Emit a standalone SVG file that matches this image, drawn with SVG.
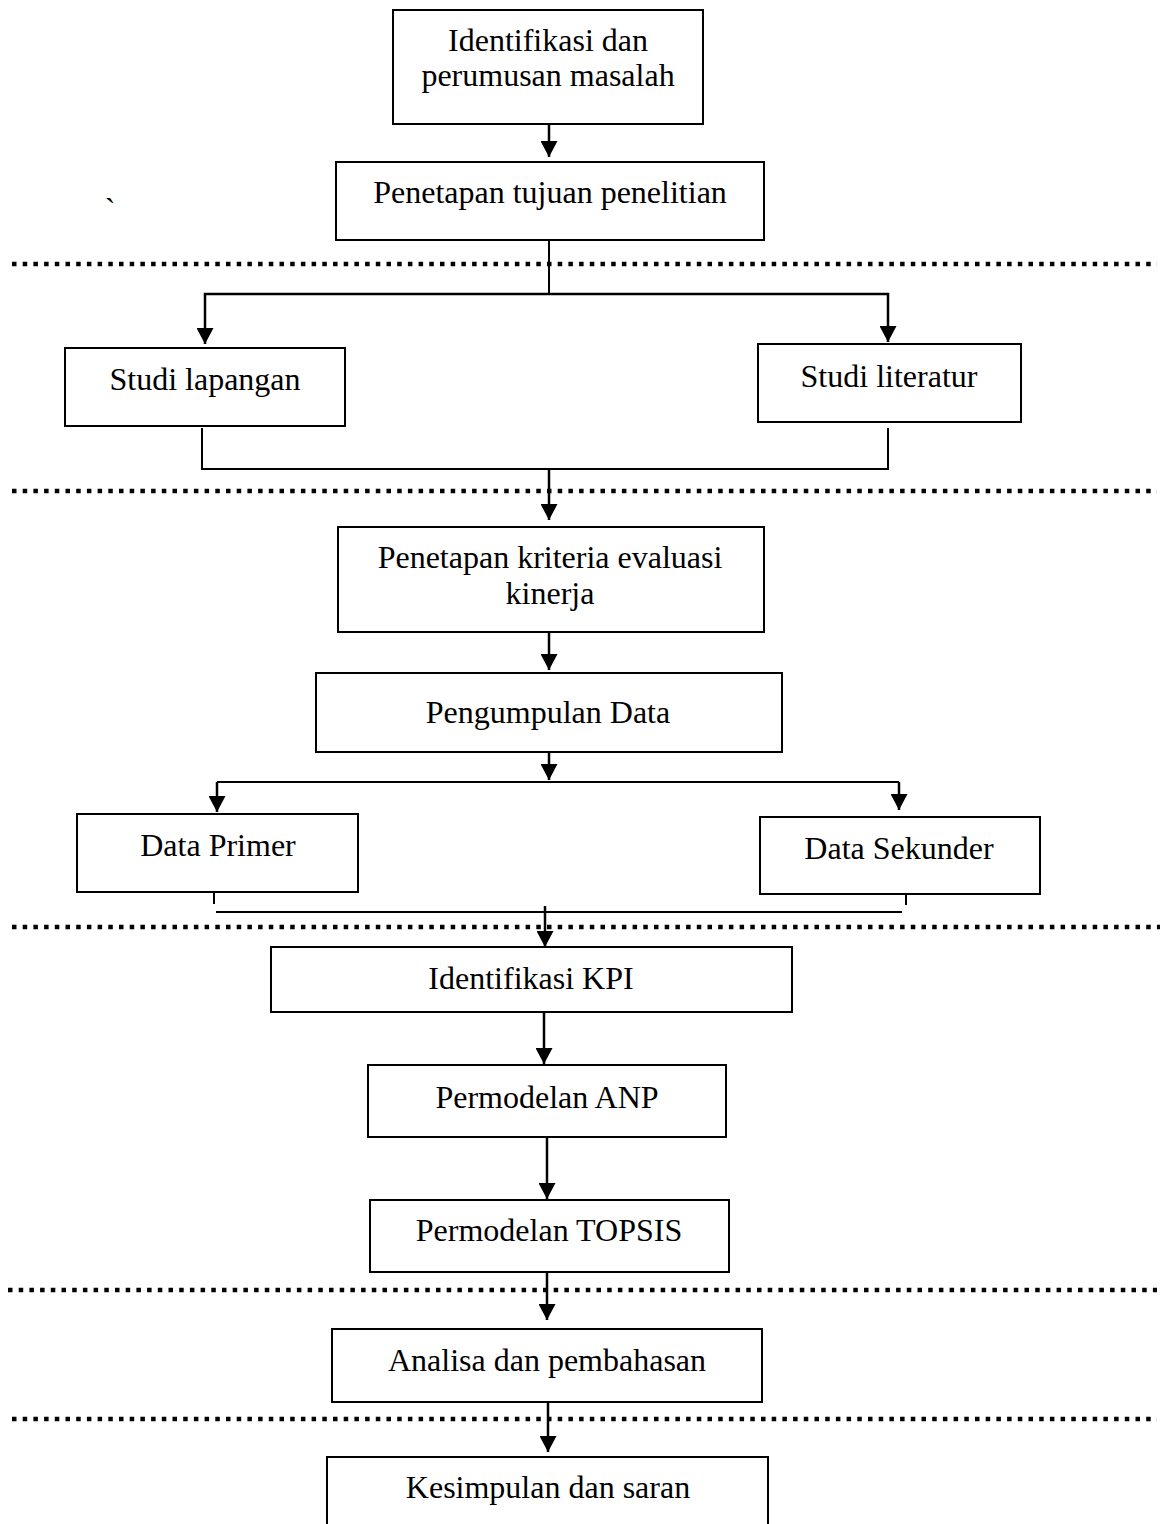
<svg xmlns="http://www.w3.org/2000/svg" width="1167" height="1524" viewBox="0 0 1167 1524">
<style>
.box{fill:#fff;stroke:#000;stroke-width:2}
.t{font-family:"Liberation Serif","Times New Roman",serif;font-size:32px;fill:#000;text-anchor:middle}
.c{fill:none;stroke:#000;stroke-width:2}
.a{fill:none;stroke:#000;stroke-width:2.5}
.dot{fill:none;stroke:#000;stroke-width:4.5;stroke-dasharray:4.5 6.2}
</style>
<defs>
<marker id="ah" markerUnits="userSpaceOnUse" markerWidth="16" markerHeight="17" refX="16" refY="8.5" orient="auto">
<path d="M0,0 L16,8.5 L0,17 z" fill="#000"/>
</marker>
</defs>
<rect width="1167" height="1524" fill="#fff"/>
<g id="separators">
<line class="dot" x1="12" y1="264" x2="1157" y2="264"/>
<line class="dot" x1="12" y1="491" x2="1157" y2="491"/>
<line class="dot" x1="12" y1="927" x2="1160" y2="927"/>
<line class="dot" x1="8" y1="1290" x2="1157" y2="1290"/>
<line class="dot" x1="12" y1="1419" x2="1157" y2="1419"/>
</g>
<g id="connectors">
<line class="a" x1="549" y1="124" x2="549" y2="157" marker-end="url(#ah)"/>
<polyline class="c" points="549,240 549,294"/>
<polyline class="a" points="549,294 205,294 205,344" marker-end="url(#ah)"/>
<polyline class="a" points="549,294 888,294 888,342" marker-end="url(#ah)"/>
<polyline class="c" points="202,428 202,469 888,469 888,428"/>
<line class="a" x1="549" y1="469" x2="549" y2="520" marker-end="url(#ah)"/>
<line class="a" x1="549" y1="632" x2="549" y2="670" marker-end="url(#ah)"/>
<line class="a" x1="549" y1="752" x2="549" y2="780" marker-end="url(#ah)"/>
<polyline class="c" points="217,782 899,782"/>
<line class="a" x1="217" y1="782" x2="217" y2="812" marker-end="url(#ah)"/>
<line class="a" x1="899" y1="782" x2="899" y2="810" marker-end="url(#ah)"/>
<line class="c" x1="214" y1="893" x2="214" y2="904"/>
<line class="c" x1="906" y1="894" x2="906" y2="905"/>
<line class="c" x1="216" y1="912" x2="902" y2="912"/>
<line class="a" x1="545" y1="906" x2="545" y2="947" marker-end="url(#ah)"/>
<line class="a" x1="544" y1="1012" x2="544" y2="1064" marker-end="url(#ah)"/>
<line class="a" x1="547" y1="1137" x2="547" y2="1199" marker-end="url(#ah)"/>
<line class="a" x1="547" y1="1272" x2="547" y2="1320" marker-end="url(#ah)"/>
<line class="a" x1="548" y1="1402" x2="548" y2="1452" marker-end="url(#ah)"/>
</g>
<g id="n1"><rect class="box" x="393" y="10" width="310" height="114"/>
<text class="t" x="548" y="51">Identifikasi dan</text><text class="t" x="548" y="86">perumusan masalah</text></g>
<g id="n2"><rect class="box" x="336" y="162" width="428" height="78"/>
<text class="t" x="550" y="203">Penetapan tujuan penelitian</text></g>
<g id="n3"><rect class="box" x="65" y="348" width="280" height="78"/>
<text class="t" x="205" y="390">Studi lapangan</text></g>
<g id="n4"><rect class="box" x="758" y="344" width="263" height="78"/>
<text class="t" x="889" y="387">Studi literatur</text></g>
<g id="n5"><rect class="box" x="338" y="527" width="426" height="105"/>
<text class="t" x="550" y="568">Penetapan kriteria evaluasi</text><text class="t" x="550" y="604">kinerja</text></g>
<g id="n6"><rect class="box" x="316" y="673" width="466" height="79"/>
<text class="t" x="548" y="723">Pengumpulan Data</text></g>
<g id="n7"><rect class="box" x="77" y="814" width="281" height="78"/>
<text class="t" x="218" y="856">Data Primer</text></g>
<g id="n8"><rect class="box" x="760" y="817" width="280" height="77"/>
<text class="t" x="899" y="859">Data Sekunder</text></g>
<g id="n9"><rect class="box" x="271" y="947" width="521" height="65"/>
<text class="t" x="531" y="989">Identifikasi KPI</text></g>
<g id="n10"><rect class="box" x="368" y="1065" width="358" height="72"/>
<text class="t" x="547" y="1108">Permodelan ANP</text></g>
<g id="n11"><rect class="box" x="370" y="1200" width="359" height="72"/>
<text class="t" x="549" y="1241">Permodelan TOPSIS</text></g>
<g id="n12"><rect class="box" x="332" y="1329" width="430" height="73"/>
<text class="t" x="547" y="1371">Analisa dan pembahasan</text></g>
<g id="n13"><rect class="box" x="327" y="1457" width="441" height="80"/>
<text class="t" x="548" y="1498">Kesimpulan dan saran</text></g>
<text class="t" x="110" y="220">`</text>
</svg>
